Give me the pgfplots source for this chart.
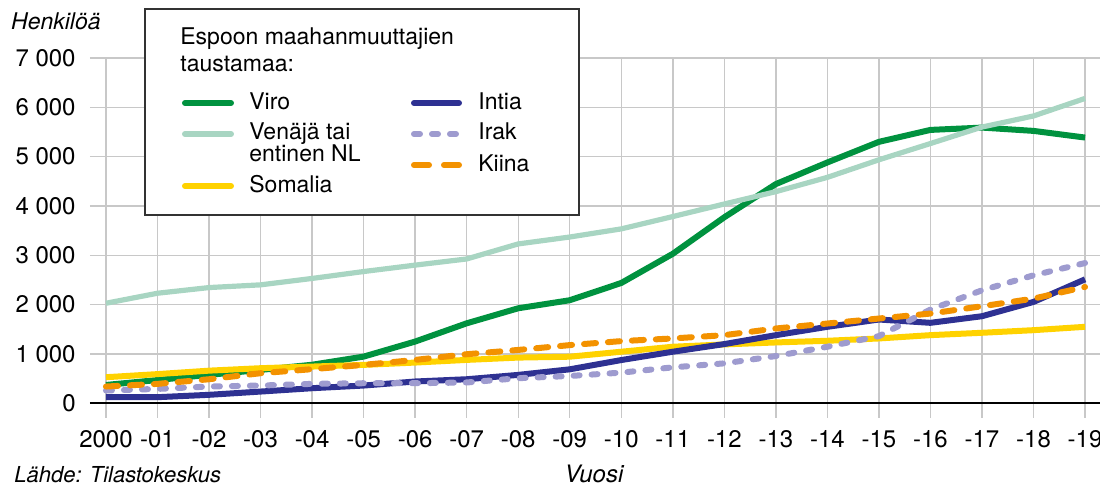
\documentclass[border=0pt]{standalone}
\usepackage{fontspec}
\setmainfont{TeX Gyre Heros}
\usepackage{pgfplots}
\pgfplotsset{compat=1.18}
\definecolor{viro}{HTML}{00923F}
\definecolor{venaja}{HTML}{A8D5C2}
\definecolor{somalia}{HTML}{FFD200}
\definecolor{intia}{HTML}{2E3192}
\definecolor{irak}{HTML}{9E9BCF}
\definecolor{kiina}{HTML}{F39200}
\definecolor{gridc}{HTML}{C8C8C8}
\begin{document}
\begin{tikzpicture}[font=\fontsize{12}{14}\selectfont]
\begin{axis}[
  at={(0,0)}, anchor=south west,
  scale only axis, width=505pt, height=180pt,
  xmin=1999.69, xmax=2019.29, ymin=-300, ymax=7000,
  axis line style={draw=none},
  major tick style={draw=none},
  xtick={2000,2001,...,2019},
  xticklabels={2000,-01,-02,-03,-04,-05,-06,-07,-08,-09,-10,-11,-12,-13,-14,-15,-16,-17,-18,-19},
  ytick={0,1000,...,7000},
  yticklabels={0,1 000,2 000,3 000,4 000,5 000,6 000,7 000},
  xmajorgrids, ymajorgrids,
  grid style={gridc, line width=0.7pt},
  xticklabel style={anchor=north, inner sep=0pt, yshift=-6pt},
  yticklabel style={anchor=east, inner sep=0pt, xshift=-7pt},
  every axis plot/.append style={line width=3pt, line join=round},
]
\draw[black, line width=1.1pt] (axis cs:1999.69,0) -- (axis cs:2019.29,0);
\addplot[viro] coordinates {(2000,370)(2001,470)(2002,575)(2003,675)(2004,780)(2005,945)(2006,1250)(2007,1620)(2008,1925)(2009,2088)(2010,2438)(2011,3030)(2012,3771)(2013,4444)(2014,4882)(2015,5300)(2016,5542)(2017,5589)(2018,5522)(2019,5387)};
\addplot[venaja, line width=2.6pt] coordinates {(2000,2027)(2001,2230)(2002,2345)(2003,2400)(2004,2530)(2005,2670)(2006,2800)(2007,2925)(2008,3230)(2009,3370)(2010,3535)(2011,3785)(2012,4040)(2013,4290)(2014,4580)(2015,4936)(2016,5266)(2017,5600)(2018,5825)(2019,6180)};
\addplot[somalia] coordinates {(2000,527)(2001,590)(2002,660)(2003,710)(2004,743)(2005,777)(2006,824)(2007,878)(2008,925)(2009,943)(2010,1044)(2011,1145)(2012,1192)(2013,1232)(2014,1266)(2015,1313)(2016,1380)(2017,1428)(2018,1481)(2019,1549)};
\addplot[intia] coordinates {(2000,122)(2001,122)(2002,170)(2003,236)(2004,304)(2005,358)(2006,440)(2007,486)(2008,574)(2009,687)(2010,875)(2011,1044)(2012,1199)(2013,1380)(2014,1549)(2015,1697)(2016,1630)(2017,1764)(2018,2054)(2019,2512)};
\addplot[irak, line cap=round, dash pattern=on 3pt off 6pt] coordinates {(2000,257)(2001,290)(2002,338)(2003,358)(2004,392)(2005,405)(2006,405)(2007,420)(2008,507)(2009,552)(2010,620)(2011,727)(2012,808)(2013,956)(2014,1145)(2015,1360)(2016,1900)(2017,2290)(2018,2593)(2019,2842)};
\addplot[kiina, line cap=round, dash pattern=on 6pt off 6pt] coordinates {(2000,338)(2001,392)(2002,486)(2003,608)(2004,690)(2005,777)(2006,878)(2007,993)(2008,1080)(2009,1178)(2010,1259)(2011,1313)(2012,1380)(2013,1515)(2014,1616)(2015,1717)(2016,1818)(2017,1966)(2018,2121)(2019,2357)};
\end{axis}
% legend
\begin{scope}[font=\fontsize{11.5}{13}\selectfont]
\draw[black!80, line width=0.6pt, fill=white] (27.5pt,101.5pt) rectangle (244.5pt,204.5pt);
\node[anchor=base west, inner sep=0pt] at (45pt,186.5pt) {Espoon maahanmuuttajien};
\node[anchor=base west, inner sep=0pt] at (45pt,173.2pt) {taustamaa:};
\draw[viro, line width=3pt, line cap=round] (47.5pt,157.5pt) -- (70.5pt,157.5pt);
\node[anchor=base west, inner sep=0pt] at (79.5pt,154pt) {Viro};
\draw[venaja, line width=3pt, line cap=round] (47.5pt,142pt) -- (70.5pt,142pt);
\node[anchor=base west, inner sep=0pt] at (79.5pt,139pt) {Venäjä tai};
\node[anchor=base west, inner sep=0pt] at (79.5pt,128.2pt) {entinen NL};
\draw[somalia, line width=3pt, line cap=round] (47.5pt,116pt) -- (70.5pt,116pt);
\node[anchor=base west, inner sep=0pt] at (79.5pt,112.5pt) {Somalia};
\draw[intia, line width=3pt, line cap=round] (162pt,157.5pt) -- (184.5pt,157.5pt);
\node[anchor=base west, inner sep=0pt] at (194pt,154pt) {Intia};
\draw[irak, line width=3pt, line cap=round, dash pattern=on 3pt off 6pt] (162pt,142pt) -- (184.5pt,142pt);
\node[anchor=base west, inner sep=0pt] at (194pt,139pt) {Irak};
\draw[kiina, line width=3pt, line cap=round, dash pattern=on 7.5pt off 7.5pt] (162pt,126.5pt) -- (184.5pt,126.5pt);
\node[anchor=base west, inner sep=0pt] at (194pt,123.2pt) {Kiina};
\end{scope}
\node[anchor=base west, inner sep=0pt, font=\fontsize{11.5}{13}\selectfont\itshape] at (-39.6pt,194pt) {Henkilöä};
\node[anchor=base west, inner sep=0pt, font=\fontsize{11}{13}\selectfont\itshape] at (-38pt,-32.5pt) {Lähde: Tilastokeskus};
\node[anchor=base, inner sep=0pt, font=\fontsize{12}{14}\selectfont\itshape] at (252pt,-32.5pt) {Vuosi};
\pgfresetboundingbox
\path (-45pt,-34.5pt) rectangle (505pt,209pt);
\end{tikzpicture}
\end{document}
